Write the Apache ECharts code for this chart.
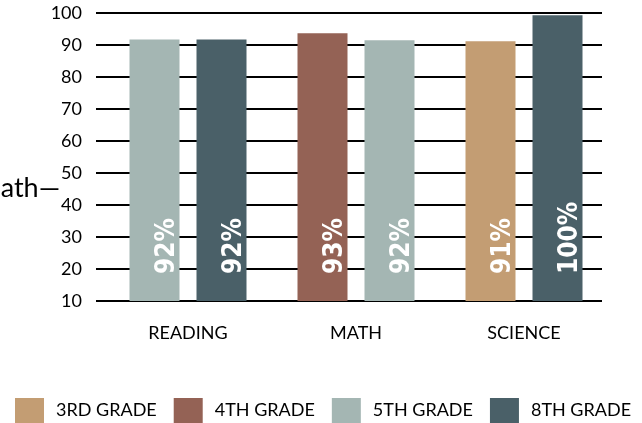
<!DOCTYPE html>
<html>
<head>
<meta charset="utf-8">
<script src="https://cdn.jsdelivr.net/npm/echarts@6/dist/echarts.min.js"></script>
<style>
  html, body { margin: 0; padding: 0; background: #fff; }
  #chart { width: 642px; height: 423px; }
</style>
</head>
<body>
<div id="chart"></div>
<script>
// 数据
const categories = ["READING", "MATH", "SCIENCE"];
const grades = ["3RD GRADE", "4TH GRADE", "5TH GRADE", "8TH GRADE"];
// each subject shows two bars: left one and right one
const leftGrade = ["5TH GRADE", "4TH GRADE", "3RD GRADE"];
const leftValues = [91.7, 93.7, 91.2];
const leftLabels = ["92%", "93%", "91%"];
const rightGrade = ["8TH GRADE", "5TH GRADE", "8TH GRADE"];
const rightValues = [91.7, 91.5, 99.3];
const rightLabels = ["92%", "92%", "100%"];
const yTicks = [10, 100, 10]; // min, max, interval

const colors = {
  "3RD GRADE": "#c39d73",
  "4TH GRADE": "#946255",
  "5TH GRADE": "#a4b6b3",
  "8TH GRADE": "#4a6068",
};

const chart = echarts.init(document.getElementById("chart"));

function barData(values, names, labels) {
  return values.map((v, i) => ({
    value: v,
    name: labels[i],
    itemStyle: { color: colors[names[i]] },
  }));
}

const barLabel = {
  show: true,
  position: "insideBottom",
  distance: 27,
  rotate: 90,
  align: "left",
  verticalAlign: "middle",
  offset: [0, 13],
  color: "#fff",
  fontFamily: "'Liberation Sans Narrow', 'Arial Narrow', 'DejaVu Sans Condensed', sans-serif",
  fontWeight: "bold",
  fontSize: 26,
  formatter: (p) => p.name,
};

const option = {
  animation: false,
  textStyle: { fontFamily: "Lato" },
  graphic: [
    {
      type: "text",
      x: -24,
      y: 175,
      style: { text: "Math\u2014", font: "27px Lato", fill: "#000" },
    },
  ],
  legend: {
    data: grades,
    left: 15,
    top: 398,
    width: 627,
    padding: 0,
    itemWidth: 29,
    itemHeight: 25,
    itemGap: 17,
    icon: "rect",
    textStyle: { fontSize: 18, color: "#000", padding: [0, 0, 0, 7] },
  },
  grid: [
    { left: 96, right: 40, top: 13, bottom: 122 },
    { left: 104, right: 34, top: 13, bottom: 122 },
  ],
  xAxis: [
    { type: "category", gridIndex: 0, data: categories, show: false },
    {
      type: "category",
      gridIndex: 1,
      data: categories,
      axisLine: { show: false },
      axisTick: { show: false },
      axisLabel: { color: "#000", fontSize: 18, margin: 23 },
    },
  ],
  yAxis: [
    {
      type: "value",
      gridIndex: 0,
      min: yTicks[0],
      max: yTicks[1],
      interval: yTicks[2],
      axisLine: { show: false },
      axisTick: { show: false },
      axisLabel: { color: "#000", fontSize: 18, margin: 14 },
      splitLine: { lineStyle: { color: "#000", width: 2 } },
    },
    {
      type: "value",
      gridIndex: 1,
      min: yTicks[0],
      max: yTicks[1],
      interval: yTicks[2],
      show: false,
    },
  ],
  series: [
    {
      name: "left",
      type: "bar",
      xAxisIndex: 1,
      yAxisIndex: 1,
      barWidth: 50,
      barGap: "34%",
      label: barLabel,
      data: barData(leftValues, leftGrade, leftLabels),
    },
    {
      name: "right",
      type: "bar",
      xAxisIndex: 1,
      yAxisIndex: 1,
      barWidth: 50,
      barGap: "34%",
      label: barLabel,
      data: barData(rightValues, rightGrade, rightLabels),
    },
    // legend only
    ...grades.map((g) => ({
      name: g,
      type: "bar",
      xAxisIndex: 0,
      yAxisIndex: 0,
      itemStyle: { color: colors[g] },
      data: [],
    })),
  ],
};
chart.setOption(option);
</script>
</body>
</html>
